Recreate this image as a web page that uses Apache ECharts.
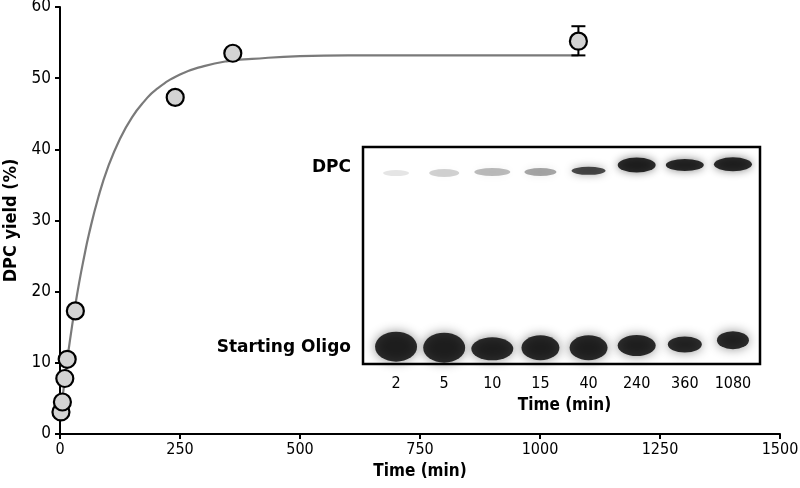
<!DOCTYPE html>
<html><head><meta charset="utf-8">
<script src="https://cdn.jsdelivr.net/npm/echarts@6/dist/echarts.min.js"></script>
<style>html,body{margin:0;padding:0;background:#fff}#c{width:800px;height:488px}</style>
</head><body><div id="c"></div>
<script>
// Measured DPC yield (%) vs time (min)
const timePts = [2, 5, 10, 15, 32, 240, 360, 1080];
const yieldPts = [3.1, 4.5, 7.8, 10.5, 17.3, 47.3, 53.5, 55.2];
// error bar on the last point
const errTime = [1080];
const errLow = [53.2];
const errHigh = [57.3];
// fitted curve
const fitTime = [0, 5, 10, 15, 20, 30, 40, 50, 60, 80, 100, 125, 150, 175, 200, 250, 300, 350, 400, 500, 600, 800, 1080];
const fitYield = [2.0, 4.9, 7.7, 10.3, 12.8, 17.3, 21.3, 24.8, 28.0, 33.3, 37.5, 41.5, 44.5, 46.7, 48.4, 50.5, 51.7, 52.4, 52.7, 53.1, 53.2, 53.2, 53.2];
const xTicks = [0, 250, 500, 750, 1000, 1250, 1500];
// inset gel
const laneLabels = ['2', '5', '10', '15', '40', '240', '360', '1080'];
const dpcIntensity = [0.13, 0.22, 0.32, 0.42, 0.85, 1, 1, 1];
const dpcPos = [0.88, 0.88, 0.885, 0.885, 0.89, 0.917, 0.917, 0.92];
const dpcWidth = [26, 30, 36, 32, 34, 38, 38, 38];
const dpcHeight = [6, 8, 8, 8, 8, 15, 12, 14];
const oligoIntensity = [1, 1, 1, 1, 1, 1, 1, 1];
const oligoPos = [0.08, 0.075, 0.07, 0.075, 0.075, 0.085, 0.09, 0.11];
const oligoWidth = [42, 42, 42, 38, 38, 38, 34, 32];
const oligoHeight = [30, 30, 23, 25, 25, 21, 16, 18];

const FONT = "'DejaVu Sans Condensed', 'Liberation Sans Narrow', sans-serif";
const WFONT = "'DejaVu Sans', sans-serif";

const chart = echarts.init(document.getElementById('c'), null, {renderer: 'canvas'});

const bandData = [];
laneLabels.forEach((l, i) => {
  bandData.push({value: [i, dpcPos[i]], symbolSize: [dpcWidth[i], dpcHeight[i]],
    itemStyle: {color: 'rgba(0,0,0,' + dpcIntensity[i] + ')', shadowColor: 'rgba(0,0,0,' + (dpcIntensity[i] * 0.6) + ')', shadowBlur: 9}});
  bandData.push({value: [i, oligoPos[i]], symbolSize: [oligoWidth[i], oligoHeight[i]],
    itemStyle: {color: 'rgba(0,0,0,' + oligoIntensity[i] + ')', shadowColor: 'rgba(0,0,0,0.55)', shadowBlur: 11}});
});

const option = {
  animation: false,
  backgroundColor: '#fff',
  textStyle: {fontFamily: FONT},
  grid: [
    {left: 60, right: 20, top: 7, bottom: 54, outerBoundsMode: 'none', containLabel: false},
    {left: 372, width: 385, top: 147, height: 217, outerBoundsMode: 'none', containLabel: false}
  ],
  xAxis: [
    {
      type: 'value', gridIndex: 0, min: 0, max: 1500, interval: 250,
      name: 'Time (min)', nameLocation: 'middle', nameGap: 29,
      nameTextStyle: {fontFamily: FONT, fontSize: 17, fontWeight: 'bold', color: '#000'},
      axisLine: {show: true, onZero: false, lineStyle: {color: '#000', width: 2}},
      axisTick: {show: true, length: 5, lineStyle: {color: '#000', width: 2}},
      axisLabel: {fontFamily: FONT, fontSize: 16, color: '#000', margin: 8,
        formatter: v => xTicks.indexOf(v) >= 0 ? String(v) : ''},
      splitLine: {show: false}
    },
    {
      type: 'category', gridIndex: 1, data: laneLabels, boundaryGap: true,
      name: 'Time (min)', nameLocation: 'middle', nameGap: 33,
      nameTextStyle: {fontFamily: FONT, fontSize: 17, fontWeight: 'bold', color: '#000'},
      axisLine: {show: false}, axisTick: {show: false},
      axisLabel: {fontFamily: FONT, fontSize: 16, color: '#000', margin: 12},
      splitLine: {show: false}
    }
  ],
  yAxis: [
    {
      type: 'value', gridIndex: 0, min: 0, max: 60, interval: 10,
      name: 'DPC yield (%)', nameLocation: 'middle', nameGap: 37,
      nameTextStyle: {fontFamily: FONT, fontSize: 18, fontWeight: 'bold', color: '#000'},
      axisLine: {show: true, lineStyle: {color: '#000', width: 2}},
      axisTick: {show: true, length: 5, lineStyle: {color: '#000', width: 2}},
      axisLabel: {fontFamily: FONT, fontSize: 17, color: '#000', margin: 9},
      splitLine: {show: false}
    },
    {
      type: 'value', gridIndex: 1, min: 0, max: 1, show: false
    }
  ],
  graphic: [
    {type: 'rect', shape: {x: 363, y: 147, width: 397, height: 217}, style: {fill: 'none', stroke: '#000', lineWidth: 2.5}, z: 10},
    {type: 'text', x: 351, y: 168, style: {text: 'DPC', fill: '#000', font: 'bold 17px ' + WFONT, textAlign: 'right', textVerticalAlign: 'middle'}},
    {type: 'text', x: 351, y: 348, style: {text: 'Starting Oligo', fill: '#000', font: 'bold 17px ' + WFONT, textAlign: 'right', textVerticalAlign: 'middle'}}
  ],
  series: [
    {
      type: 'line', xAxisIndex: 0, yAxisIndex: 0, smooth: true, symbol: 'none',
      data: fitTime.map((t, i) => [t, fitYield[i]]),
      lineStyle: {color: '#7a7a7a', width: 2.2}, z: 2
    },
    {
      type: 'custom', xAxisIndex: 0, yAxisIndex: 0, z: 3,
      data: errTime.map((t, i) => [t, errLow[i], errHigh[i]]),
      renderItem: function (params, api) {
        const lo = api.coord([api.value(0), api.value(1)]);
        const hi = api.coord([api.value(0), api.value(2)]);
        const w = 7;
        const st = {stroke: '#000', lineWidth: 2};
        return {type: 'group', children: [
          {type: 'line', shape: {x1: lo[0], y1: lo[1], x2: hi[0], y2: hi[1]}, style: st},
          {type: 'line', shape: {x1: lo[0] - w, y1: lo[1], x2: lo[0] + w, y2: lo[1]}, style: st},
          {type: 'line', shape: {x1: hi[0] - w, y1: hi[1], x2: hi[0] + w, y2: hi[1]}, style: st}
        ]};
      }
    },
    {
      type: 'scatter', xAxisIndex: 0, yAxisIndex: 0, z: 4,
      data: timePts.map((t, i) => [t, yieldPts[i]]),
      symbol: 'circle', symbolSize: 17,
      itemStyle: {color: '#d3d3d3', borderColor: '#000', borderWidth: 2.2, opacity: 1}
    },
    {
      type: 'scatter', xAxisIndex: 1, yAxisIndex: 1, z: 5,
      data: bandData, symbol: 'circle'
    }
  ]
};
chart.setOption(option);
</script>
</body></html>
